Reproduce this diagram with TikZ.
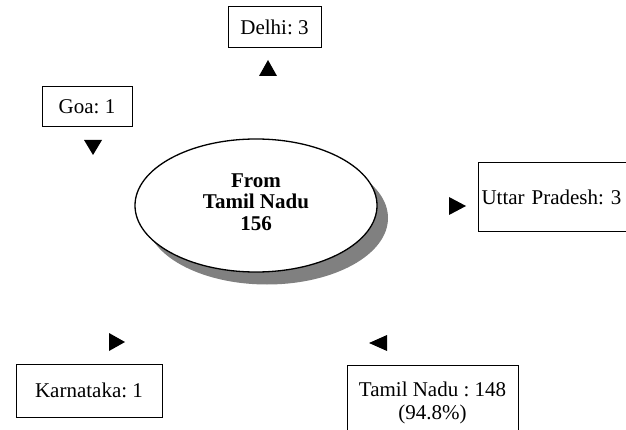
\documentclass[tikz,border=0pt]{standalone}
\usepackage{fontspec}
\setmainfont{Liberation Serif}
\usetikzlibrary{shapes.geometric}
\frenchspacing
\tikzset{
  box/.style={draw, line width=1pt, rectangle, inner sep=0pt, font=\fontsize{21}{23}\selectfont\frenchspacing, align=center},
  txt/.style={inner sep=0pt, font=\fontsize{21}{23}\selectfont\frenchspacing},
  tip/.style={fill=black},
}
\begin{document}
\begin{tikzpicture}[x=1pt,y=-1pt]
\useasboundingbox (0,0) rectangle (626,430);
\clip (0,0) rectangle (626,430);
% central ellipse with shadow
\fill[fill={rgb,255:red,128;green,128;blue,128}] (267,218) ellipse [x radius=121, y radius=66.5];
\node (c) [draw, line width=1.3pt, fill=white, ellipse, minimum width=242, minimum height=133, inner sep=0pt] at (256,205.5) {};
\node (ct) [txt, font=\fontsize{21}{21.5}\selectfont\bfseries, align=center] at (256,202) {From\\Tamil Nadu\\156};
% boxes
\node (delhi) [box, minimum width=93, minimum height=41] at (274.5,27.5) {Delhi: 3};
\node (goa) [box, minimum width=90, minimum height=40] at (87,107) {Goa: 1};
\node (kar) [box, minimum width=146, minimum height=53] at (89,390.5) {Karnataka: 1};
\node (tn) [box, minimum width=171, minimum height=76] at (432.5,403) {Tamil Nadu : 148\\(94.8\%)};
\node (up) [box, anchor=west, minimum width=200, minimum height=69, text width=194, align=left, inner xsep=3pt] at (478,197.5) {Uttar Pradesh: 3};
% arrowheads (connector tips)
\coordinate (td) at (268,68);
\coordinate (tg) at (93,147.5);
\coordinate (tu) at (457.5,206);
\coordinate (tk) at (117,342);
\coordinate (tt) at (378,343);
\fill[tip, shift={(td)}] (-9,8) -- (9,8) -- (0,-8) -- cycle;
\fill[tip, shift={(tg)}] (-9,-7.5) -- (9,-7.5) -- (0,7.5) -- cycle;
\fill[tip, shift={(tu)}] (-8.5,-9) -- (-8.5,9) -- (8.5,0) -- cycle;
\fill[tip, shift={(tk)}] (-8,-9) -- (-8,9) -- (8,0) -- cycle;
\fill[tip, shift={(tt)}] (9,-8) -- (9,8) -- (-9,0) -- cycle;
\end{tikzpicture}
\end{document}
